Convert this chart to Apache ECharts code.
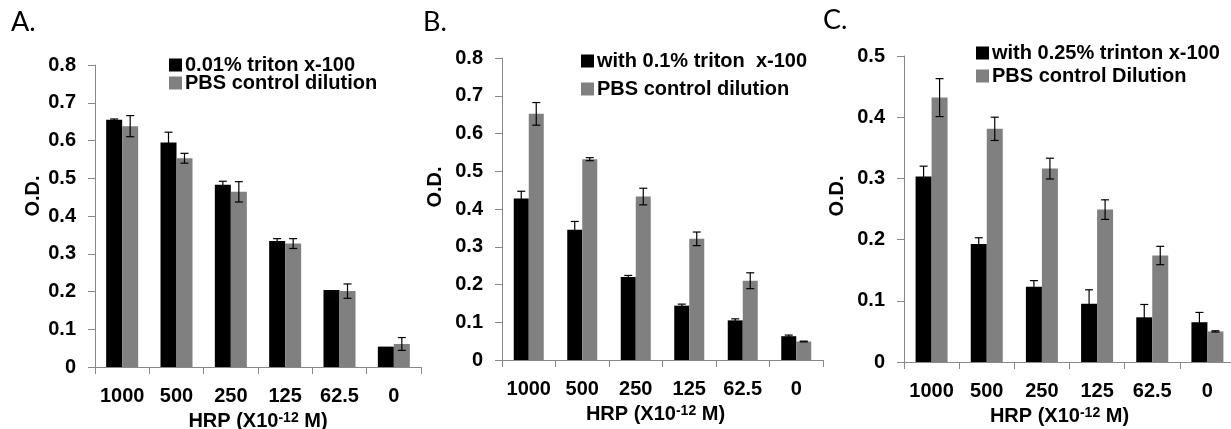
<!DOCTYPE html>
<html>
<head>
<meta charset="utf-8">
<script src="https://cdn.jsdelivr.net/npm/echarts@6/dist/echarts.min.js"></script>
<style>
html,body{margin:0;padding:0;background:#fff;}
#chart{width:1231px;height:429px;}
</style>
</head>
<body>
<div id="chart"></div>
<script>
// ---- data ----
const categories = ['1000', '500', '250', '125', '62.5', '0'];
const xAxisName = 'HRP (X10{sup|-12} M)';
const yAxisName = 'O.D.';
const panelLetters = ['A.', 'B.', 'C.'];

const aNames = ['0.01% triton x-100', 'PBS control dilution'];
const aTriton = [0.655, 0.595, 0.483, 0.334, 0.204, 0.054];
const aTritonErr = [0.002, 0.027, 0.009, 0.006, 0, 0];
const aPbs = [0.638, 0.553, 0.464, 0.327, 0.201, 0.061];
const aPbsErr = [0.028, 0.013, 0.027, 0.013, 0.019, 0.017];

const bNames = ['with 0.1% triton  x-100', 'PBS control dilution'];
const bTriton = [0.428, 0.345, 0.220, 0.144, 0.105, 0.063];
const bTritonErr = [0.019, 0.022, 0.004, 0.004, 0.004, 0.003];
const bPbs = [0.652, 0.532, 0.433, 0.321, 0.210, 0.049];
const bPbsErr = [0.030, 0.004, 0.022, 0.018, 0.021, 0.001];

const cNames = ['with 0.25% trinton x-100', 'PBS control Dilution'];
const cTriton = [0.303, 0.193, 0.123, 0.095, 0.073, 0.065];
const cTritonErr = [0.017, 0.010, 0.010, 0.023, 0.021, 0.016];
const cPbs = [0.432, 0.381, 0.316, 0.249, 0.174, 0.050];
const cPbsErr = [0.031, 0.019, 0.017, 0.016, 0.015, 0.001];

const yMax = [0.8, 0.8, 0.5];

// ---- styles ----
const FONT = 'Liberation Sans, Arial, sans-serif';
const AXIS_COLOR = '#888888';
const BLACK = '#000000';
const GRAY = '#808080';

const grids = [
  {left: 95, top: 65, width: 326, height: 302},
  {left: 502, top: 58, width: 321, height: 302},
  {left: 904, top: 56, width: 331, height: 306}
].map(g => Object.assign(g, {outerBoundsMode: 'none', containLabel: false}));
const barWidths = [16, 15, 16];
const yNameGap = [52, 57, 57];
const yNamePad = [[0, 0, 0, 40], [0, 0, 0, 44], [0, 0, 0, 26]];
const xNamePad = [[0, 0, 0, 0], [0, 14, 0, 0], [0, 20, 0, 0]];

function errRender(sign, barW) {
  return function (params, api) {
    const e = api.value(2);
    if (!e) return null;
    const idx = api.value(0);
    const v = api.value(1);
    const x = api.coord([idx, 0])[0] + sign * barW / 2;
    const yHi = api.coord([idx, v + e])[1];
    const yLo = api.coord([idx, v - e])[1];
    const cap = 4;
    const st = {stroke: '#000', lineWidth: 1.2};
    return {
      type: 'group',
      children: [
        {type: 'line', shape: {x1: x, y1: yHi, x2: x, y2: yLo}, style: st},
        {type: 'line', shape: {x1: x - cap, y1: yHi, x2: x + cap, y2: yHi}, style: st},
        {type: 'line', shape: {x1: x - cap, y1: yLo, x2: x + cap, y2: yLo}, style: st}
      ]
    };
  };
}

const panels = [
  {names: aNames, s1: aTriton, e1: aTritonErr, s2: aPbs, e2: aPbsErr},
  {names: bNames, s1: bTriton, e1: bTritonErr, s2: bPbs, e2: bPbsErr},
  {names: cNames, s1: cTriton, e1: cTritonErr, s2: cPbs, e2: cPbsErr}
];

const option = {
  animation: false,
  backgroundColor: '#ffffff',
  title: [
    {text: panelLetters[0], left: 6, top: 4},
    {text: panelLetters[1], left: 418, top: 4},
    {text: panelLetters[2], left: 818, top: 2}
  ].map(t => Object.assign(t, {
    textStyle: {fontFamily: 'Lato, Open Sans, sans-serif', fontWeight: 'normal', fontSize: 27, color: '#000'}
  })),
  legend: [
    {left: 164, top: 50, itemGap: -2, data: aNames},
    {left: 576, top: 46, itemGap: 8, data: bNames},
    {left: 971, top: 38, itemGap: 3, data: cNames}
  ].map((l, i) => Object.assign(l, {
    orient: 'vertical',
    icon: 'rect',
    itemWidth: 13,
    itemHeight: 13,
    selectedMode: false,
    textStyle: {fontFamily: FONT, fontWeight: 'bold', fontSize: 20, color: '#000', padding: [0, 0, 0, -2]}
  })),
  grid: grids,
  xAxis: grids.map((g, i) => ({
    type: 'category',
    gridIndex: i,
    data: categories,
    axisLine: {lineStyle: {color: AXIS_COLOR, width: 1}},
    axisTick: {show: true, length: 7, lineStyle: {color: AXIS_COLOR}},
    axisLabel: {fontFamily: FONT, fontWeight: 'bold', fontSize: 20, color: '#000', margin: 19, interval: 0},
    name: xAxisName,
    nameLocation: 'middle',
    nameGap: 44,
    nameTextStyle: {
      fontFamily: FONT, fontWeight: 'bold', fontSize: 20, color: '#000', padding: xNamePad[i],
      rich: {sup: {fontFamily: FONT, fontWeight: 'bold', fontSize: 14, color: '#000', verticalAlign: 'top'}}
    }
  })),
  yAxis: grids.map((g, i) => ({
    type: 'value',
    gridIndex: i,
    min: 0,
    max: yMax[i],
    interval: 0.1,
    splitLine: {show: false},
    axisLine: {show: true, lineStyle: {color: AXIS_COLOR, width: 1}},
    axisTick: {show: true, length: 7, lineStyle: {color: AXIS_COLOR}},
    axisLabel: {fontFamily: FONT, fontWeight: 'bold', fontSize: 20, color: '#000', margin: 19},
    name: yAxisName,
    nameLocation: 'middle',
    nameGap: yNameGap[i],
    nameRotate: 90,
    nameTextStyle: {fontFamily: FONT, fontWeight: 'bold', fontSize: 20, color: '#000', padding: yNamePad[i]}
  })),
  series: []
};

panels.forEach((p, i) => {
  option.series.push({
    type: 'bar', name: p.names[0], xAxisIndex: i, yAxisIndex: i,
    data: p.s1, barWidth: barWidths[i], barGap: '0%',
    itemStyle: {color: BLACK}
  });
  option.series.push({
    type: 'bar', name: p.names[1], xAxisIndex: i, yAxisIndex: i,
    data: p.s2, barWidth: barWidths[i], barGap: '0%',
    itemStyle: {color: GRAY}
  });
  option.series.push({
    type: 'custom', name: p.names[0] + ' err', xAxisIndex: i, yAxisIndex: i, z: 5,
    renderItem: errRender(-1, barWidths[i]),
    data: p.s1.map((v, k) => [k, v, p.e1[k]])
  });
  option.series.push({
    type: 'custom', name: p.names[1] + ' err', xAxisIndex: i, yAxisIndex: i, z: 5,
    renderItem: errRender(1, barWidths[i]),
    data: p.s2.map((v, k) => [k, v, p.e2[k]])
  });
});

const chart = echarts.init(document.getElementById('chart'), null, {renderer: 'canvas'});
chart.setOption(option);
</script>
</body>
</html>
